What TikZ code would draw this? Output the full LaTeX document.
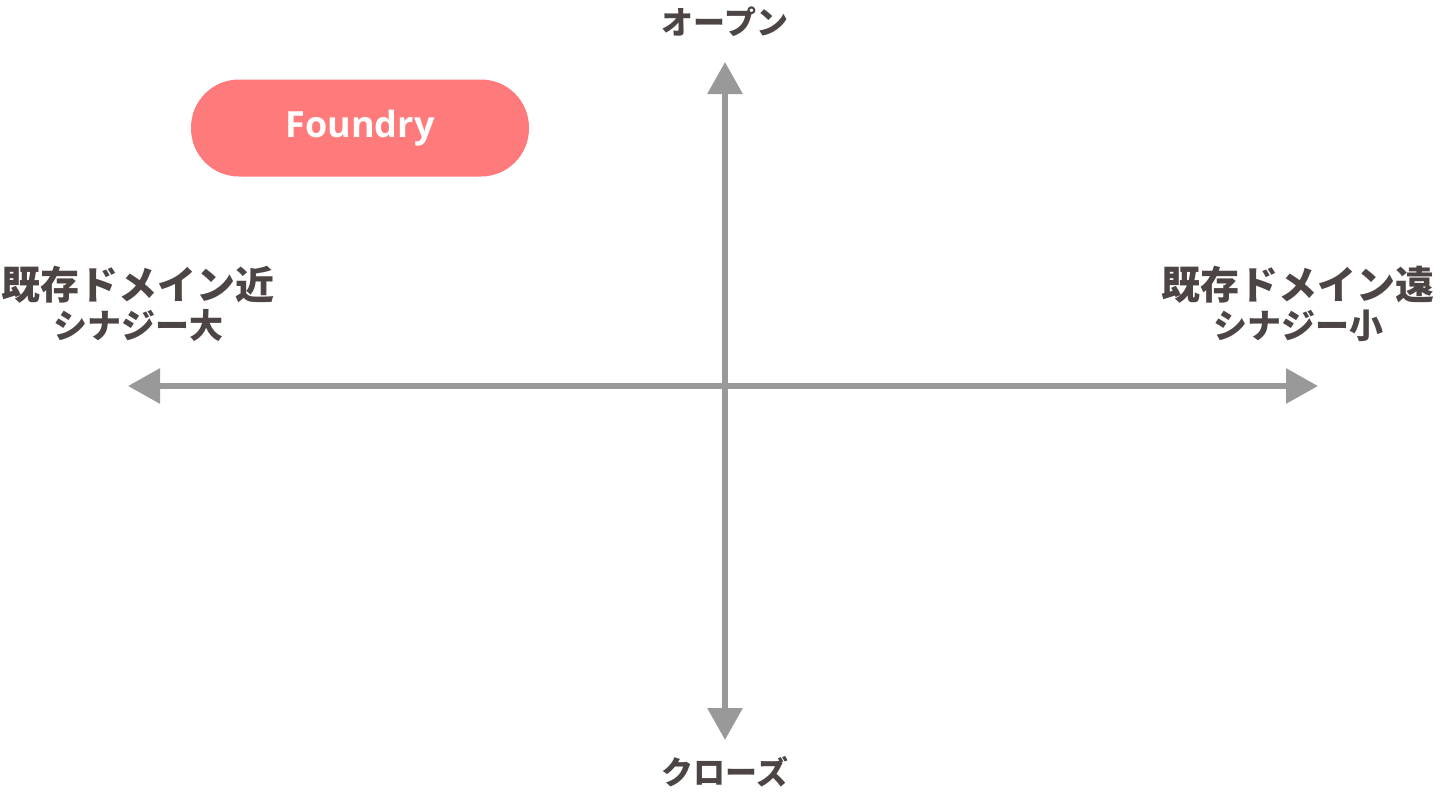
\documentclass[tikz,border=0pt]{standalone}
\usepackage{fontspec}
\usepackage{xcolor}
\usepackage{tikz}
\usetikzlibrary{arrows.meta, positioning, calc}
\newfontfamily\jpfont{Noto Sans CJK JP}
\setsansfont{Open Sans}
\definecolor{axisgray}{RGB}{153, 153, 153}
\definecolor{labelgray}{RGB}{77, 68, 68}
\definecolor{pillred}{RGB}{255, 123, 123}

\tikzset{
  axis/.style={draw=axisgray, line width=6pt,
    {Triangle[width=34pt, length=32pt]}-{Triangle[width=34pt, length=32pt]}},
  axislabel/.style={text=labelgray, font=\jpfont\bfseries\fontsize{32}{38}\selectfont},
  sidelabel/.style={text=labelgray, align=center, inner sep=0pt,
    font=\jpfont\bfseries\fontsize{39}{41}\selectfont},
  pill/.style={fill=pillred, rounded corners=48pt, minimum width=338pt,
    minimum height=97pt, text=white, font=\sffamily\bfseries\fontsize{36}{40}\selectfont}
}

\begin{document}
\begin{tikzpicture}[x=1pt, y=-1pt]
  \useasboundingbox (0,0) rectangle (1440,800);

  % Axis ends
  \coordinate (top) at (725,62);
  \coordinate (bottom) at (725,740);
  \coordinate (left) at (128,386);
  \coordinate (right) at (1318,386);

  % Axes
  \draw[axis] (bottom) -- (top);
  \draw[axis] (left) -- (right);

  % Axis labels
  \node[axislabel] (open) at (725,22) {オープン};
  \node[axislabel] (close) at (725,772) {クローズ};
  \node[sidelabel] (near) at (138,304)
    {既存ドメイン近\\[-2pt]{\fontsize{34}{38}\selectfont シナジー大}};
  \node[sidelabel] (far) at (1298,304)
    {既存ドメイン遠\\[-2pt]{\fontsize{34}{38}\selectfont シナジー小}};

  % Foundry
  \node[pill] (foundry) at (360,128) {Foundry};
\end{tikzpicture}
\end{document}
